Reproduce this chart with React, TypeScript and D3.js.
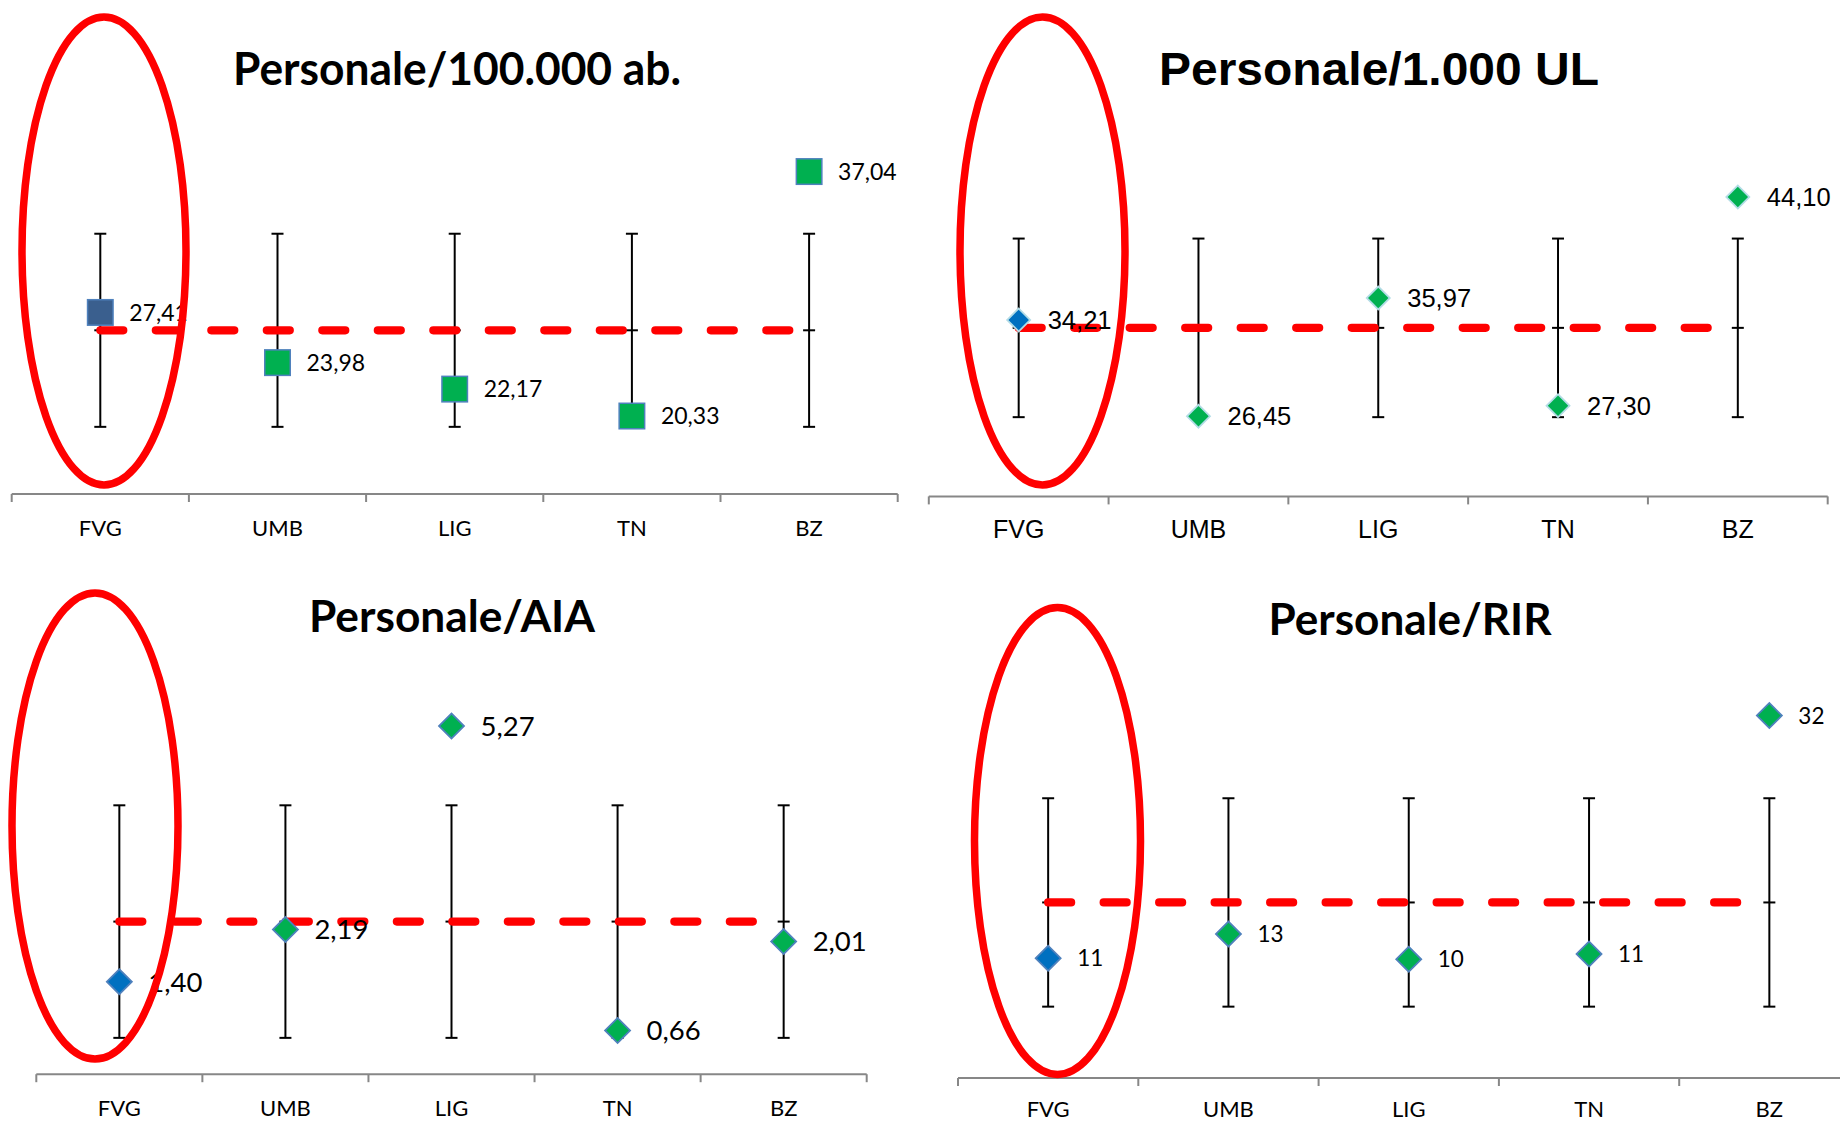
import React from "react";
import * as d3 from "d3";

// ---------- DATA ----------
const categories = ["FVG", "UMB", "LIG", "TN", "BZ"];
const titles = ["Personale/100.000 ab.", "Personale/1.000 UL", "Personale/AIA", "Personale/RIR"];

const valuesAb = [27.41, 23.98, 22.17, 20.33, 37.04];
const valuesUL = [34.21, 26.45, 35.97, 27.3, 44.1];
const valuesAIA = [1.4, 2.19, 5.27, 0.66, 2.01];
const valuesRIR = [10.57, 12.72, 10.48, 10.95, 32.0];

const meanAb = 26.19;
const sdAb = 6.6;
const meanUL = 33.57;
const sdUL = 7.19;
const meanAIA = 2.31;
const sdAIA = 1.76;
const meanRIR = 15.5;
const sdRIR = 9.2;

const yDomainAb = [15, 40];
const yDomainUL = [20, 50];
const yDomainAIA = [0, 6];
const yDomainRIR = [0, 35];

const highlighted = "FVG";

const itLocale = d3.formatLocale({ decimal: ",", thousands: ".", grouping: [3], currency: ["€", ""] });
const fmt2 = itLocale.format(".2f");
const fmt0 = itLocale.format(".0f");

const CALIBRI = "Lato, 'Open Sans', sans-serif";
const ARIAL = "'Liberation Sans', Arial, sans-serif";

type Panel = {
  title: string;
  values: number[];
  mean: number;
  sd: number;
  yDomain: number[];
  fmt: (n: number) => string;
  xRange: [number, number];
  yRange: [number, number];
  axisEnd: number;
  marker: "square" | "diamond";
  mSize: number;
  hiFill: string;
  fill: string;
  stroke: string;
  font: string;
  labelSize: number;
  catSize: number;
  catBaseline: number;
  title_: { x: number; y: number; size: number; len: number };
  ellipse: { cx: number; cy: number; rx: number; ry: number };
};

const panels: Panel[] = [
  {
    title: titles[0], values: valuesAb, mean: meanAb, sd: sdAb, yDomain: yDomainAb, fmt: fmt2,
    xRange: [11.7, 897.7], yRange: [494, 128.25], axisEnd: 897.7,
    marker: "square", mSize: 25.5, hiFill: "#3A5F8E", fill: "#00B050", stroke: "#4F81BD",
    font: CALIBRI, labelSize: 23, catSize: 22, catBaseline: 536,
    title_: { x: 457, y: 85, size: 46, len: 448 },
    ellipse: { cx: 104, cy: 251, rx: 82, ry: 234 },
  },
  {
    title: titles[1], values: valuesUL, mean: meanUL, sd: sdUL, yDomain: yDomainUL, fmt: fmt2,
    xRange: [928.8, 1827.7], yRange: [496.4, 123.8], axisEnd: 1827.7,
    marker: "diamond", mSize: 23, hiFill: "#0070C0", fill: "#00B050", stroke: "#B3DCE6",
    font: ARIAL, labelSize: 25.5, catSize: 25, catBaseline: 537.5,
    title_: { x: 1379, y: 85, size: 47, len: 440 },
    ellipse: { cx: 1042.5, cy: 251, rx: 82.5, ry: 234 },
  },
  {
    title: titles[2], values: valuesAIA, mean: meanAIA, sd: sdAIA, yDomain: yDomainAIA, fmt: fmt2,
    xRange: [36.3, 866.7], yRange: [1074.2, 677.8], axisEnd: 866.7,
    marker: "diamond", mSize: 25, hiFill: "#0070C0", fill: "#00B050", stroke: "#4F81BD",
    font: CALIBRI, labelSize: 27.5, catSize: 22, catBaseline: 1116,
    title_: { x: 452, y: 632, size: 43, len: 286 },
    ellipse: { cx: 95, cy: 826, rx: 83, ry: 233 },
  },
  {
    title: titles[3], values: valuesRIR, mean: meanRIR, sd: sdRIR, yDomain: yDomainRIR, fmt: fmt0,
    xRange: [958, 1859.5], yRange: [1078, 681.6], axisEnd: 1840,
    marker: "diamond", mSize: 25, hiFill: "#0070C0", fill: "#00B050", stroke: "#4F81BD",
    font: CALIBRI, labelSize: 22.5, catSize: 22, catBaseline: 1117,
    title_: { x: 1410, y: 635, size: 43, len: 283 },
    ellipse: { cx: 1057.5, cy: 841, rx: 83, ry: 233.5 },
  },
];

function ChartPanel({ p }: { p: Panel }) {
  const x = d3.scaleBand<string>().domain(categories).range(p.xRange).padding(0);
  const y = d3.scaleLinear().domain(p.yDomain).range(p.yRange);
  const bw = x.bandwidth();
  const cx = (c: string) => (x(c) as number) + bw / 2;
  const axisY = p.yRange[0];
  const boundaries = categories.map((c) => x(c) as number).concat([p.xRange[1]]);
  const top = y(p.mean + p.sd);
  const bot = y(p.mean - p.sd);
  const my = y(p.mean);
  const h = p.mSize / 2;
  const diamond = d3.symbol().type(d3.symbolSquare);
  return (
    <g>
      <text
        x={p.title_.x}
        y={p.title_.y}
        textAnchor="middle"
        fontFamily={p.font}
        fontWeight={700}
        fontSize={p.title_.size}
        textLength={p.title_.len}
        lengthAdjust="spacingAndGlyphs"
        fill="#000"
      >
        {p.title}
      </text>
      <line x1={p.xRange[0]} x2={p.axisEnd} y1={axisY} y2={axisY} stroke="#878787" strokeWidth={2} />
      {boundaries.map((b, i) => (
        <line key={i} x1={b} x2={b} y1={axisY} y2={axisY + 8} stroke="#878787" strokeWidth={2} />
      ))}
      {categories.map((c) => (
        <text key={c} x={cx(c)} y={p.catBaseline} textAnchor="middle" fontFamily={p.font} fontSize={p.catSize} fill="#000">
          {c}
        </text>
      ))}
      {categories.map((c) => {
        const xx = cx(c);
        return (
          <g key={c} stroke="#000" strokeWidth={2}>
            <line x1={xx} x2={xx} y1={top} y2={bot} />
            <line x1={xx - 6} x2={xx + 6} y1={top} y2={top} />
            <line x1={xx - 6} x2={xx + 6} y1={bot} y2={bot} />
            <line x1={xx - 6} x2={xx + 6} y1={my} y2={my} />
          </g>
        );
      })}
      <line
        x1={cx(categories[0])}
        x2={cx(categories[categories.length - 1])}
        y1={my}
        y2={my}
        stroke="#FF0000"
        strokeWidth={8.2}
        strokeDasharray="23 32.5"
        strokeLinecap="round"
      />
      {categories.map((c, i) => {
        const xx = cx(c);
        const yy = y(p.values[i]);
        const fill = c === highlighted ? p.hiFill : p.fill;
        if (p.marker === "square") {
          return <rect key={c} x={xx - h} y={yy - h} width={p.mSize} height={p.mSize} fill={fill} stroke={p.stroke} strokeWidth={1.5} />;
        }
        const area = (p.mSize / Math.SQRT2) ** 2;
        return (
          <path
            key={c}
            d={diamond.size(area)() as string}
            transform={`translate(${xx},${yy}) rotate(45)`}
            fill={fill}
            stroke={p.stroke}
            strokeWidth={1.8}
          />
        );
      })}
      {categories.map((c, i) => (
        <text
          key={c}
          x={cx(c) + 29}
          y={y(p.values[i]) + p.labelSize * 0.36}
          fontFamily={p.font}
          fontSize={p.labelSize}
          fill="#000"
        >
          {p.fmt(p.values[i])}
        </text>
      ))}
      <ellipse cx={p.ellipse.cx} cy={p.ellipse.cy} rx={p.ellipse.rx} ry={p.ellipse.ry} fill="none" stroke="#FF0000" strokeWidth={7.5} />
    </g>
  );
}

export default function App() {
  return (
    <div style={{ position: "absolute", left: 0, top: 0, width: 1840, height: 1122, background: "#fff" }}>
      <svg width={1840} height={1122} viewBox="0 0 1840 1122" style={{ display: "block" }}>
        <rect x={0} y={0} width={1840} height={1122} fill="#fff" />
        {panels.map((p, i) => (
          <ChartPanel key={i} p={p} />
        ))}
      </svg>
    </div>
  );
}
